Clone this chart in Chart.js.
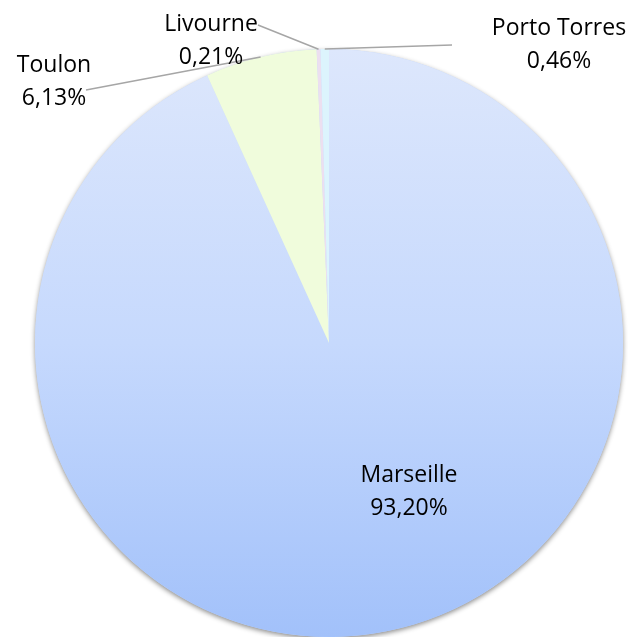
<!DOCTYPE html>
<html>
<head>
<meta charset="utf-8">
<script src="https://cdn.jsdelivr.net/npm/chart.js@4.4.1/dist/chart.umd.min.js"></script>
<style>
    html, body { margin: 0; padding: 0; background: #fff; }
    #wrap { width: 628px; height: 637px; position: relative; }
</style>
</head>
<body>
<div id="wrap"><canvas id="portChart"></canvas></div>
<script>
const ports = ['Marseille', 'Toulon', 'Livourne', 'Porto Torres'];
const shares = [93.20, 6.13, 0.21, 0.46];
const sliceColors = ['#c6d9fd', '#f0fcdc', '#ecdff0', '#dcf4fd'];

// where each label block sits (centre x, first line y)
const labelSpots = [
    { x: 409, y: 475, leader: false },
    { x: 54, y: 65, leader: true, from: [86, 90] },
    { x: 211, y: 24, leader: true, from: [258, 25] },
    { x: 559, y: 28, leader: true, from: [452, 45] }
];

function fmt(v) {
    return v.toFixed(2).replace('.', ',') + '%';
}

const pieShadow = {
    id: 'pieShadow',
    beforeDatasetsDraw(chart) {
        const arc = chart.getDatasetMeta(0).data[0];
        if (!arc) return;
        const c = chart.ctx;
        c.save();
        c.shadowColor = 'rgba(0,0,0,0.45)';
        c.shadowBlur = 5;
        c.shadowOffsetY = 2;
        c.fillStyle = '#c6d9fd';
        c.beginPath();
        c.arc(arc.x, arc.y, arc.outerRadius, 0, Math.PI * 2);
        c.fill();
        c.restore();
    }
};

const pieLabels = {
    id: 'pieLabels',
    afterDatasetsDraw(chart) {
        const c = chart.ctx;
        const meta = chart.getDatasetMeta(0);
        c.save();
        meta.data.forEach((arc, i) => {
            const spot = labelSpots[i];
            if (spot.leader) {
                const mid = (arc.startAngle + arc.endAngle) / 2;
                const ex = arc.x + Math.cos(mid) * arc.outerRadius;
                const ey = arc.y + Math.sin(mid) * arc.outerRadius;
                c.strokeStyle = '#a6a6a6';
                c.lineWidth = 1.5;
                c.beginPath();
                c.moveTo(spot.from[0], spot.from[1]);
                c.lineTo(ex, ey);
                c.stroke();
            }
        });
        c.fillStyle = '#000';
        c.font = '23px "Open Sans"';
        c.textAlign = 'center';
        c.textBaseline = 'middle';
        meta.data.forEach((arc, i) => {
            const spot = labelSpots[i];
            c.fillText(ports[i], spot.x, spot.y);
            c.fillText(fmt(shares[i]), spot.x, spot.y + 33);
        });
        c.restore();
    }
};

const ctx = document.getElementById('portChart').getContext('2d');
new Chart(ctx, {
    type: 'pie',
    data: {
        labels: ports,
        datasets: [{
            data: shares,
            backgroundColor: function (context) {
                const i = context.dataIndex;
                const area = context.chart.chartArea;
                if (i !== 0 || !area) return sliceColors[i];
                const g = context.chart.ctx.createLinearGradient(0, area.top, 0, area.bottom);
                g.addColorStop(0, '#dde7fc');
                g.addColorStop(0.5, '#c6d9fd');
                g.addColorStop(1, '#a2c1fa');
                return g;
            },
            borderWidth: 0
        }]
    },
    options: {
        responsive: true,
        maintainAspectRatio: false,
        animation: false,
        layout: {
            padding: { left: 35, right: 5, top: 49, bottom: 0 }
        },
        plugins: {
            legend: { display: false },
            tooltip: { enabled: false }
        }
    },
    plugins: [pieShadow, pieLabels]
});
</script>
</body>
</html>
